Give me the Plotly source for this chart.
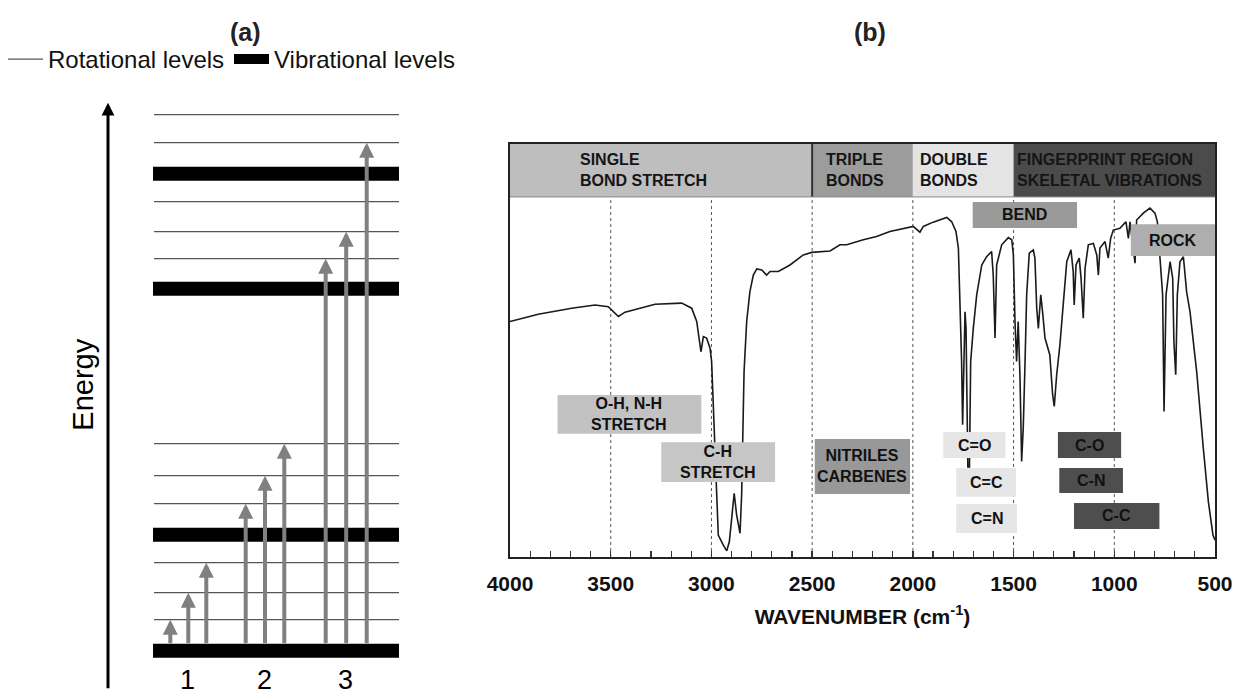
import plotly.graph_objects as go

# ======================= DATA =======================
# (a) energy-level diagram (energy in arbitrary units)
vib_levels = [0, 116, 362, 477]
rot_levels = [31, 58, 88, 147, 175, 207, 392, 419, 449, 508, 536]
group_names = ["1", "2", "3"]
transition_group = ["1", "1", "1", "2", "2", "2", "3", "3", "3"]
transition_upper = [31, 58, 88, 147, 175, 207, 392, 419, 508]

# (b) IR spectrum
wavenumber = [4000, 3860, 3694, 3578, 3512, 3462, 3429, 3280, 3148, 3098, 3073, 3052, 3040,
              3024, 3007, 2999, 2994, 2987, 2977, 2966, 2941, 2924, 2911, 2899, 2887, 2875,
              2858, 2850, 2845, 2838, 2825, 2809, 2792, 2775, 2750, 2726, 2709, 2668, 2610,
              2544, 2502, 2411, 2362, 2328, 2246, 2180, 2114,
              2080, 1998, 1965, 1948, 1899, 1832, 1807, 1786, 1774, 1766, 1758, 1753, 1746,
              1741, 1736, 1727, 1719, 1713, 1700, 1683, 1658, 1634, 1609, 1601, 1592, 1584,
              1559, 1526, 1509, 1501, 1493, 1485, 1477, 1468, 1460, 1452, 1443, 1435, 1422,
              1402, 1394, 1385, 1377, 1365, 1356, 1344,
              1320, 1306, 1298, 1286, 1270, 1253, 1236, 1215, 1204, 1199, 1190, 1174, 1165,
              1154, 1145, 1129, 1104, 1087, 1079, 1071, 1046, 1030, 1018, 1005, 972, 942,
              930, 922, 897, 889, 856, 823, 798, 786, 773, 760, 753, 743, 723, 710, 704,
              695, 687, 674, 657, 641, 624, 591, 558, 533, 510, 500]
transmittance = [65.4, 67.4, 69.1, 70.0, 69.5, 66.8, 68.0, 70.2, 70.5, 69.1, 65.4, 57.0, 61.2,
                 60.8, 58.0, 54.3, 46.9, 35.8, 21.9, 6.1, 3.3, 1.7, 4.3, 11.7, 17.7, 11.7,
                 6.6, 17.2, 35.8, 51.5, 65.4, 73.7, 78.3, 80.0, 79.7, 78.3, 79.3, 79.3, 81.1,
                 83.9, 84.6, 85.0, 86.7, 86.7, 88.1, 89.0, 90.4,
                 90.8, 91.8, 90.2, 91.8, 93.0, 94.3, 93.1, 90.4, 85.8, 72.8, 54.3, 36.7, 54.3,
                 68.1, 63.6, 25.0, 25.0, 54.3, 63.5, 72.8, 81.1, 83.4, 84.8, 78.3, 60.8, 81.1,
                 86.7, 88.7, 88.1, 83.9, 65.4, 54.3, 65.4, 49.7, 26.5, 35.8, 54.3, 72.8, 84.4,
                 85.3, 83.0, 69.1, 63.5, 72.8, 68.1, 60.8,
                 56.1, 45.0, 41.8, 50.6, 58.9, 70.9, 82.0, 85.3, 79.3, 70.0, 81.1, 83.0, 77.4,
                 66.3, 80.2, 86.7, 87.1, 83.9, 78.3, 85.8, 87.6, 83.0, 88.5, 90.8, 91.3, 93.1,
                 88.5, 93.1, 81.6, 93.6, 95.5, 96.9, 95.5, 93.1, 82.0, 72.8, 40.4, 72.8, 82.0,
                 77.4, 59.8, 50.6, 72.8, 82.0, 83.4, 73.7, 68.1, 51.5, 30.2, 15.4, 6.1, 4.7]

tick_values = [4000, 3500, 3000, 2500, 2000, 1500, 1000, 500]

region_names = ["SINGLE<br>BOND STRETCH", "TRIPLE<br>BONDS", "DOUBLE<br>BONDS",
                "FINGERPRINT REGION<br>SKELETAL VIBRATIONS"]
region_edges = [4000, 2500, 2000, 1500, 500]

band_names = ["O-H, N-H<br>STRETCH", "C-H<br>STRETCH", "NITRILES<br>CARBENES",
              "C=O", "C=C", "C=N", "BEND", "ROCK", "C-O", "C-N", "C-C"]
band_wn_hi = [3764, 3249, 2487, 1849, 1785, 1785, 1703, 918, 1280, 1273, 1200]
band_wn_lo = [3050, 2684, 2014, 1540, 1488, 1483, 1185, 500, 966, 957, 776]
band_t_lo = [34.2, 20.8, 17.5, 27.5, 16.7, 6.7, 91.4, 83.6, 27.5, 17.8, 7.8]
band_t_hi = [45.0, 31.9, 32.8, 34.7, 24.7, 14.7, 98.6, 92.4, 34.7, 24.7, 15.0]

# ======================= STYLE / LAYOUT =======================
W, H = 1235, 697
FONT = "Liberation Sans, Arial, Helvetica, sans-serif"

region_colors = ["#bebebe", "#9c9c9c", "#e4e4e4", "#4b4b4b"]
region_text_x = [3662, 2441, 1975, 1493]
band_colors = ["#c2c2c2", "#c6c6c6", "#989898", "#e6e6e6", "#e6e6e6", "#e6e6e6",
               "#9a9a9a", "#aeaeae", "#4e4e4e", "#4e4e4e", "#4e4e4e"]

GROUP_X = {"1": 188.3, "2": 265.0, "3": 346.2}
GROUP_SP = {"1": 18.0, "2": 19.3, "3": 20.5}
LEVEL_X0, LEVEL_X1 = 153, 399
BAR_W = 14

fig = go.Figure()

# ---- panel (a) ----
rx, ry = [], []
for e in rot_levels:
    rx += [LEVEL_X0 + 1, LEVEL_X1, None]
    ry += [e, e, None]
fig.add_trace(go.Scatter(x=rx, y=ry, mode="lines", name="Rotational levels",
                         line=dict(color="#555555", width=1.3), xaxis="x", yaxis="y",
                         hoverinfo="skip"))
vx, vy = [], []
for e in vib_levels:
    vx += [LEVEL_X0, LEVEL_X1, None]
    vy += [e, e, None]
fig.add_trace(go.Scatter(x=vx, y=vy, mode="lines", name="Vibrational levels",
                         line=dict(color="#000000", width=BAR_W), xaxis="x", yaxis="y",
                         hoverinfo="skip"))

annotations = []
counts = {}
for g, up in zip(transition_group, transition_upper):
    k = counts.get(g, 0)
    counts[g] = k + 1
    x = GROUP_X[g] + (k - 1) * GROUP_SP[g]
    annotations.append(dict(x=x, y=up, ax=x, ay=vib_levels[0] + 6, xref="x", yref="y",
                            axref="x", ayref="y", text="", showarrow=True, arrowhead=2,
                            arrowsize=0.75, arrowwidth=4, arrowcolor="#808080", standoff=0))
# energy axis arrow
annotations.append(dict(x=108, y=548, ax=108, ay=-39, xref="x", yref="y", axref="x",
                        ayref="y", text="", showarrow=True, arrowhead=2, arrowsize=0.85,
                        arrowwidth=3, arrowcolor="#000000", standoff=0))
annotations.append(dict(x=83, y=266, xref="x", yref="y", text="Energy", textangle=-90,
                        showarrow=False, font=dict(family=FONT, size=29, color="#000")))
for g in group_names:
    annotations.append(dict(x=GROUP_X[g] - 1, y=-29, xref="x", yref="y", text=g,
                            showarrow=False, yanchor="middle",
                            font=dict(family=FONT, size=27, color="#000")))
annotations.append(dict(x=245 / W, y=1 - 32 / H, xref="paper", yref="paper", text="<b>(a)</b>",
                        showarrow=False, xanchor="center", yanchor="middle",
                        font=dict(family=FONT, size=25, color="#222")))
annotations.append(dict(x=870 / W, y=1 - 32 / H, xref="paper", yref="paper", text="<b>(b)</b>",
                        showarrow=False, xanchor="center", yanchor="middle",
                        font=dict(family=FONT, size=25, color="#222")))

# ---- panel (b) ----
fig.add_trace(go.Scatter(x=wavenumber, y=transmittance, mode="lines", showlegend=False,
                         line=dict(color="#1a1a1a", width=1.6), xaxis="x2", yaxis="y2",
                         hoverinfo="skip"))

T_TOP = 114.7
shapes = []
for i, name in enumerate(region_names):
    shapes.append(dict(type="rect", xref="x2", yref="y2", x0=region_edges[i],
                       x1=region_edges[i + 1], y0=100, y1=T_TOP, fillcolor=region_colors[i],
                       line=dict(width=0), layer="below"))
    annotations.append(dict(x=region_text_x[i], y=(100 + T_TOP) / 2, xref="x2", yref="y2",
                            text="<b>" + name + "</b>", showarrow=False, xanchor="left",
                            align="left",
                            font=dict(family=FONT, size=16, color="#151515")))
shapes.append(dict(type="line", xref="x2", yref="y2", x0=region_edges[1], x1=region_edges[1],
                   y0=100, y1=T_TOP, line=dict(color="#333", width=2)))
shapes.append(dict(type="line", xref="x2", yref="y2", x0=region_edges[0], x1=region_edges[-1],
                   y0=100, y1=100, line=dict(color="#888", width=1)))
for v in tick_values[1:-1]:
    shapes.append(dict(type="line", xref="x2", yref="y2", x0=v, x1=v, y0=0, y1=100,
                       line=dict(color="#555", width=1, dash="dot"), layer="below"))
for i, name in enumerate(band_names):
    shapes.append(dict(type="rect", xref="x2", yref="y2", x0=band_wn_hi[i], x1=band_wn_lo[i],
                       y0=band_t_lo[i], y1=band_t_hi[i], fillcolor=band_colors[i],
                       line=dict(width=0), layer="above"))
    annotations.append(dict(x=(band_wn_hi[i] + band_wn_lo[i]) / 2,
                            y=(band_t_lo[i] + band_t_hi[i]) / 2, xref="x2", yref="y2",
                            text="<b>" + name + "</b>", showarrow=False,
                            font=dict(family=FONT, size=16, color="#111")))

fig.update_layout(
    width=W, height=H, template="none",
    margin=dict(l=0, r=0, t=0, b=0, pad=0),
    paper_bgcolor="white", plot_bgcolor="white",
    font=dict(family=FONT, color="#000"),
    showlegend=True,
    legend=dict(orientation="h", x=3 / W, y=1 - 37 / H, xanchor="left", yanchor="top",
                itemwidth=35, entrywidth=176, entrywidthmode="pixels",
                font=dict(family=FONT, size=24, color="#111"), bgcolor="rgba(0,0,0,0)",
                borderwidth=0),
    xaxis=dict(domain=[0, 480 / W], range=[0, 480], visible=False, fixedrange=True),
    yaxis=dict(domain=[0, 1], range=[-46.3, 650.7], visible=False, fixedrange=True),
    xaxis2=dict(domain=[510 / W, 1215 / W], range=[4000, 500], anchor="y2",
                showline=True, mirror=True, linecolor="#222", linewidth=2,
                showgrid=False, zeroline=False, automargin=False,
                tickmode="array", tickvals=tick_values, ticktext=[str(v) for v in tick_values],
                ticks="inside", ticklen=6, tickwidth=1.5, tickcolor="#333",
                minor=dict(tickmode="linear", tick0=500, dtick=100, ticks="inside",
                           ticklen=6, tickwidth=1.2, tickcolor="#333", showgrid=False),
                ticklabelstandoff=7,
                tickfont=dict(family=FONT, size=21, color="#111", weight="bold"),
                title=dict(text="WAVENUMBER (cm<sup>-1</sup>)", standoff=15,
                           font=dict(family=FONT, size=21, color="#111", weight="bold"))),
    yaxis2=dict(domain=[1 - 557 / H, 1 - 144 / H], range=[0, T_TOP], anchor="x2",
                showline=True, mirror=True, linecolor="#222", linewidth=2,
                showgrid=False, zeroline=False, showticklabels=False, ticks="",
                automargin=False),
    shapes=shapes,
    annotations=annotations,
)

fig.write_html("out.html", config={"displayModeBar": False, "staticPlot": True},
               post_script="document.body.style.margin='0';document.body.style.overflow='hidden';")
